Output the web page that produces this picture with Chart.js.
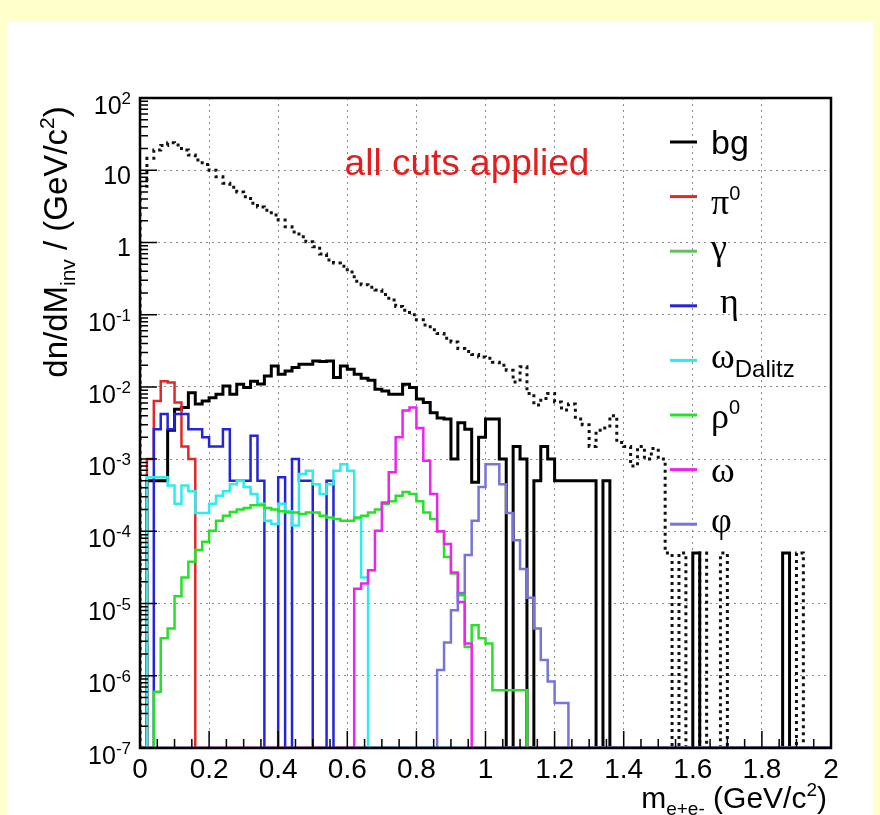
<!DOCTYPE html>
<html>
<head>
<meta charset="utf-8">
<script src="https://cdn.jsdelivr.net/npm/chart.js@4.4.1/dist/chart.umd.min.js"></script>
<style>
  html, body { margin: 0; padding: 0; background: #ffffcc; }
  #wrap { width: 880px; height: 815px; }
</style>
</head>
<body>
<div id="wrap"><canvas id="massChart" width="880" height="815"></canvas></div>
<script>
// e+e- invariant mass spectra after all cuts, 0.02 GeV/c^2 bins from 0 to 2
const binWidth = 0.02;
const nBins = 100;
const yMin = 1e-7;
const yMax = 1e2;

// bin contents; each array starts at the bin given by its *First constant,
// zeros and bins past the end of an array are empty
const bgFirst = 0;
const bg = [
  0, 5e-4, 5e-4, 5e-4, 2.5e-3, 4.9e-3, 5.2e-3, 8.3e-3, 5.8e-3, 6.4e-3,
  7.1e-3, 7.9e-3, 1.03e-2, 7.9e-3, 1.09e-2, 9.8e-3, 1.2e-2, 1.1e-2, 1.42e-2, 1.95e-2,
  1.5e-2, 1.66e-2, 1.85e-2, 2.06e-2, 2.06e-2, 2.29e-2, 2.24e-2, 2.29e-2, 1.35e-2, 1.95e-2,
  1.75e-2, 1.5e-2, 1.32e-2, 1.24e-2, 9.3e-3, 8.8e-3, 7.9e-3, 7.9e-3, 1.09e-2, 9.8e-3,
  6.8e-3, 6.1e-3, 4.4e-3, 3.7e-3, 3.6e-3, 1.0e-3, 3.2e-3, 2.6e-3, 4.8e-4, 2.0e-3,
  3.6e-3, 3.6e-3, 1.0e-3, 0, 1.5e-3, 1.0e-3, 0, 5e-4, 1.5e-3, 1.0e-3,
  5e-4, 5e-4, 5e-4, 5e-4, 5e-4, 5e-4, 0, 5e-4, 0, 0,
  0, 0, 0, 0, 0, 0, 0, 0, 0, 0,
  5e-5, 0, 0, 0, 0, 0, 0, 0, 0, 0,
  0, 0, 0, 5e-5
];
// background before cuts (dashed)
const bgRawFirst = 0;
const bgRaw = [
  6, 14.6, 19, 22, 24, 22.4, 19, 16.2, 13.8, 12,
  10, 8.1, 6.6, 5.8, 5.0, 4.3, 3.5, 3.1, 2.8, 2.4,
  2.05, 1.65, 1.4, 1.2, 1.02, 0.87, 0.69, 0.57, 0.52, 0.47,
  0.39, 0.29, 0.26, 0.24, 0.22, 0.19, 0.16, 0.13, 0.115, 0.1,
  0.085, 0.072, 0.062, 0.055, 0.047, 0.042, 0.034, 0.031, 0.028, 0.026,
  0.025, 0.022, 0.02, 0.017, 0.0117, 0.019, 0.0081, 0.0056, 0.0069, 0.0081,
  0.0062, 0.0048, 0.0058, 0.0036, 0.003, 0.0015, 0.0025, 0.0027, 0.004, 0.0017,
  0.0015, 0.0008, 0.0015, 0.001, 0.0014, 0.001, 5e-5, 0, 5e-5, 0,
  0, 5e-5, 0, 0, 5e-5, 0, 0, 0, 0, 0,
  0, 0, 0, 0, 0, 5e-5
];
const pi0First = 0;
const pi0 = [0, 1.0e-3, 6.4e-3, 1.2e-2, 1.15e-2, 6.1e-3, 1.5e-3, 1.0e-3];
const gammaFirst = 0;
const gammaConv = [];
const etaFirst = 2;
const eta = [
  2.6e-3, 4.2e-3, 2.6e-3, 4.2e-3, 4.2e-3, 2.6e-3, 2.6e-3, 2.0e-3, 1.5e-3, 1.5e-3,
  2.6e-3, 5e-4, 5e-4, 5e-4, 2.1e-3, 5e-4, 0, 0, 5.6e-4, 0,
  1.0e-3, 5e-4, 5e-4, 0, 0, 5e-4
];
const omegaDalitzFirst = 1;
const omegaDalitz = [
  5.6e-4, 5.6e-4, 5.6e-4, 4.3e-4, 2.4e-4, 4.3e-4, 3.6e-4, 1.8e-4, 1.8e-4, 2.4e-4,
  3.1e-4, 3.6e-4, 4.5e-4, 5e-4, 4.1e-4, 3.3e-4, 2.4e-4, 1.4e-4, 1.26e-4, 2.4e-4,
  1.9e-4, 1.2e-4, 6.2e-4, 6.9e-4, 4.5e-4, 3.3e-4, 4.5e-4, 6.9e-4, 8.5e-4, 6.9e-4,
  1.5e-4, 2.3e-5
];
const rho0First = 2;
const rho0 = [
  6.0e-7, 3.3e-6, 4.5e-6, 1.26e-5, 2.3e-5, 3.8e-5, 5.5e-5, 7.2e-5, 1.02e-4, 1.4e-4,
  1.65e-4, 1.85e-4, 2.0e-4, 2.1e-4, 2.3e-4, 2.3e-4, 2.1e-4, 2.0e-4, 1.9e-4, 1.83e-4,
  1.83e-4, 1.74e-4, 1.83e-4, 1.83e-4, 1.65e-4, 1.56e-4, 1.48e-4, 1.4e-4, 1.4e-4, 1.56e-4,
  1.65e-4, 1.83e-4, 2.0e-4, 2.4e-4, 2.6e-4, 3.1e-4, 3.5e-4, 3.3e-4, 2.6e-4, 1.83e-4,
  1.48e-4, 1.0e-4, 4.4e-5, 2.6e-5, 1.3e-5, 2.5e-6, 5.0e-6, 3.3e-6, 2.8e-6, 6.3e-7,
  6.3e-7, 6.3e-7, 6.3e-7, 6.3e-7
];
const omegaFirst = 31;
const omega = [
  1.6e-5, 1.9e-5, 2.9e-5, 1.02e-4, 2.5e-4, 6.6e-4, 2.0e-3, 4.7e-3, 5.2e-3, 2.7e-3,
  9.5e-4, 3.3e-4, 1.0e-4, 6.7e-5, 2.7e-5, 1.05e-5, 2.8e-6
];
const phiFirst = 43;
const phi = [
  1.2e-6, 2.9e-6, 8.1e-6, 1.4e-5, 4.7e-5, 1.4e-4, 4.1e-4, 8.5e-4, 8.5e-4, 4.5e-4,
  1.8e-4, 7.5e-5, 3.0e-5, 1.2e-5, 4.5e-6, 1.65e-6, 8.3e-7, 4.2e-7, 4.2e-7
];

const xTickLabels = ['0', '0.2', '0.4', '0.6', '0.8', '1', '1.2', '1.4', '1.6', '1.8', '2'];
const yTickExponents = [2, 1, 0, -1, -2, -3, -4, -5, -6, -7];

const SANS = 'Liberation Sans';
const SERIF = 'Liberation Serif';

// step outline of a histogram; empty bins sit on the lower edge of the log axis
function histPoints(first, values) {
  const pts = [{ x: 0, y: yMin }];
  for (let k = 0; k < nBins; k++) {
    const v = values[k - first];
    pts.push({ x: k * binWidth, y: v > 0 ? v : yMin });
  }
  pts.push({ x: nBins * binWidth, y: yMin });
  return pts;
}

function hist(label, first, values, color, width, order, dash) {
  return {
    label: label,
    data: histPoints(first, values),
    borderColor: color,
    borderWidth: width,
    borderDash: dash || [],
    stepped: true,
    fill: false,
    pointRadius: 0,
    order: order
  };
}

const datasets = [
  hist('bg, no cuts', bgRawFirst, bgRaw, '#111111', 3, 9, [3, 4]),
  hist('bg', bgFirst, bg, '#000000', 3, 8),
  hist('pi0', pi0First, pi0, '#e02828', 2.5, 7),
  hist('gamma', gammaFirst, gammaConv, '#66bb66', 2.5, 6),
  hist('eta', etaFirst, eta, '#2424dc', 2.5, 5),
  hist('omegaDalitz', omegaDalitzFirst, omegaDalitz, '#2cecec', 2.5, 4),
  hist('rho0', rho0First, rho0, '#28e028', 2.5, 3),
  hist('omega', omegaFirst, omega, '#ec24ec', 2.5, 2),
  hist('phi', phiFirst, phi, '#7474dc', 2.5, 1)
];

// legend rows: dataset index and label pieces [text, size, shift, family]
const legendRows = [
  [1, [['bg', 34]]],
  [2, [['\u03c0', 36, 0, SERIF], ['0', 20, -14]]],
  [3, [['\u03b3', 36, 0, SERIF]]],
  [4, [[' \u03b7', 36, 0, SERIF]]],
  [5, [['\u03c9', 36, 0, SERIF], ['Dalitz', 24, 9]]],
  [6, [['\u03c1', 36, 0, SERIF], ['0', 20, -14]]],
  [7, [['\u03c9', 36, 0, SERIF]]],
  [8, [['\u03c6', 36, 0, SERIF]]]
];

function setFont(c, p) {
  c.font = p[1] + 'px "' + (p[3] || SANS) + '"';
}

function richBox(c, parts) {
  let w = 0, top = 0, bottom = 0;
  parts.forEach(p => {
    setFont(c, p);
    const m = c.measureText(p[0]);
    w += m.width;
    top = Math.min(top, -m.actualBoundingBoxAscent + (p[2] || 0));
    bottom = Math.max(bottom, m.actualBoundingBoxDescent + (p[2] || 0));
  });
  return { w, top, bottom };
}

function drawRich(c, parts, x, y, align) {
  const box = richBox(c, parts);
  let cx = align === 'right' ? x - box.w : align === 'center' ? x - box.w / 2 : x;
  parts.forEach(p => {
    setFont(c, p);
    c.fillText(p[0], cx, y + (p[2] || 0));
    cx += c.measureText(p[0]).width;
  });
}

// draw text so that its ink box is centred on y
function drawRichMid(c, parts, x, y, align) {
  const box = richBox(c, parts);
  drawRich(c, parts, x, y - (box.top + box.bottom) / 2, align);
}

const pagePlugin = {
  id: 'page',
  beforeDraw(chart) {
    const c = chart.ctx;
    c.save();
    c.fillStyle = '#ffffcc';
    c.fillRect(0, 0, chart.width, chart.height);
    c.fillStyle = '#ffffff';
    c.fillRect(8, 22, 865, chart.height - 22);
    c.restore();
  },
  afterDatasetsDraw(chart) {
    const c = chart.ctx;
    const a = chart.chartArea;
    const xs = chart.scales.x;
    const ys = chart.scales.y;
    c.save();
    c.strokeStyle = '#000';
    c.lineWidth = 1.5;
    c.beginPath();
    // ticks on the x axis, every 0.05 with long ones at the labels
    for (let i = 0; i <= 40; i++) {
      const px = xs.getPixelForValue(i * 0.05);
      const len = i % 4 === 0 ? 17 : 9;
      c.moveTo(px, a.bottom);
      c.lineTo(px, a.bottom - len);
    }
    // log ticks on the y axis
    for (let e = -7; e <= 2; e++) {
      for (let m = 1; m <= 9; m++) {
        const v = m * Math.pow(10, e);
        if (v > yMax * 1.0001) break;
        const py = ys.getPixelForValue(v);
        const len = m === 1 ? 17 : 8;
        c.moveTo(a.left, py);
        c.lineTo(a.left + len, py);
      }
    }
    c.stroke();
    c.lineWidth = 2.5;
    c.strokeRect(a.left, a.top, a.right - a.left, a.bottom - a.top);
    c.restore();
  },
  afterDraw(chart) {
    const c = chart.ctx;
    const xs = chart.scales.x;
    const ys = chart.scales.y;
    c.save();
    c.fillStyle = '#000';
    c.textBaseline = 'alphabetic';

    // y tick labels
    yTickExponents.forEach(e => {
      const py = ys.getPixelForValue(Math.pow(10, e));
      let parts;
      if (e === 1) parts = [['10', 25]];
      else if (e === 0) parts = [['1', 25]];
      else parts = [['10', 25], [String(e), 17, -10]];
      drawRichMid(c, parts, 131, py + 5, 'right');
    });

    // x tick labels
    xTickLabels.forEach(t => {
      const px = xs.getPixelForValue(parseFloat(t));
      drawRich(c, [[t, 28]], px, 778, 'center');
    });

    // axis titles
    drawRich(c, [['m', 30], ['e+e-', 19, 7], [' (GeV/c', 30], ['2', 19, -12], [')', 30]], 827, 808, 'right');
    c.save();
    c.translate(67, 242);
    c.rotate(-Math.PI / 2);
    drawRich(c, [['dn/dM', 33], ['inv', 21, 8], [' / (GeV/c', 33], ['2', 21, -13], [')', 33]], 0, 0, 'center');
    c.restore();

    // plot title
    c.fillStyle = '#e41e1e';
    drawRich(c, [['all cuts applied', 37]], 467, 175, 'center');

    // legend
    legendRows.forEach((row, i) => {
      const ds = chart.data.datasets[row[0]];
      const ly = 142 + i * 54.6;
      c.strokeStyle = ds.borderColor;
      c.lineWidth = 3;
      c.setLineDash([]);
      c.beginPath();
      c.moveTo(670, ly);
      c.lineTo(697, ly);
      c.stroke();
      c.fillStyle = '#000';
      drawRichMid(c, row[1], 711, ly + 3, 'left');
    });
    c.restore();
  }
};

const gridStyle = { color: '#8c8c8c', lineWidth: 1, drawTicks: false };

new Chart(document.getElementById('massChart'), {
  type: 'line',
  data: { datasets: datasets },
  options: {
    responsive: false,
    animation: false,
    events: [],
    layout: { padding: { top: 98, right: 49, left: 0, bottom: 0 } },
    plugins: { legend: { display: false }, tooltip: { enabled: false } },
    elements: { line: { tension: 0, borderJoinStyle: 'miter' }, point: { radius: 0 } },
    scales: {
      x: {
        type: 'linear',
        min: 0,
        max: 2,
        ticks: { display: false, stepSize: 0.2 },
        grid: gridStyle,
        border: { display: false, dash: [2, 4] },
        afterFit: s => { s.height = 67; }
      },
      y: {
        type: 'logarithmic',
        min: yMin,
        max: yMax,
        ticks: { display: false },
        afterBuildTicks: s => { s.ticks = yTickExponents.map(e => ({ value: Math.pow(10, e) })); },
        grid: gridStyle,
        border: { display: false, dash: [2, 4] },
        afterFit: s => { s.width = 140; }
      }
    }
  },
  plugins: [pagePlugin]
});
</script>
</body>
</html>
